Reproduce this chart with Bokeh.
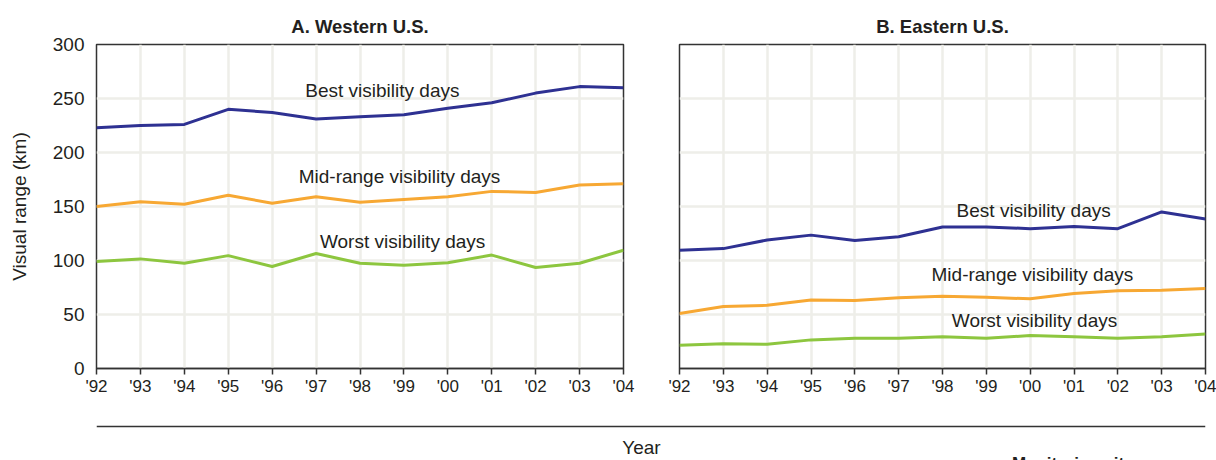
from bokeh.plotting import figure
from bokeh.layouts import column, row
from bokeh.models import Range1d, FixedTicker, Label, Span
from bokeh.embed import file_html
from bokeh.resources import INLINE

years = ["'92", "'93", "'94", "'95", "'96", "'97", "'98", "'99", "'00", "'01", "'02", "'03", "'04"]
y_ticks = [0, 50, 100, 150, 200, 250, 300]

west_best = [223, 225, 226, 240, 237, 231, 233, 235, 241, 246, 255, 261, 260]
west_mid = [150, 154.5, 152, 160.5, 153, 159, 154, 156.5, 159, 164, 163, 170, 171]
west_worst = [99, 101.5, 97.5, 104.5, 94.5, 106.5, 97.5, 95.5, 98, 105, 93.5, 97.5, 109.5]

east_best = [109.5, 111, 119, 123.5, 118.5, 122, 131, 131, 129.5, 131.5, 129.5, 145, 138.5]
east_mid = [51, 57.5, 58.5, 63.5, 63, 65.5, 67, 66, 64.5, 69.5, 72, 72.5, 74]
east_worst = [21.5, 23, 22.5, 26.5, 28, 28, 29.5, 28, 30.5, 29.5, 28, 29.5, 32]

series_names = ["Best visibility days", "Mid-range visibility days", "Worst visibility days"]
colors = ["#2e3192", "#f7a833", "#8dc63f"]

FONT = "Liberation Sans"
DARK = "#231f20"

x = list(range(len(years)))


def make_panel(title, series, label_pos, left_border, right_border, width, show_y):
    p = figure(width=width, height=408, output_backend="svg", toolbar_location=None,
               x_range=Range1d(0, len(years) - 1), y_range=Range1d(0, 300),
               min_border_left=left_border, min_border_right=right_border,
               min_border_top=44, min_border_bottom=40, title=title)
    p.title.align = "center"
    p.title.text_font = FONT
    p.title.text_font_size = "18.5px"
    p.title.text_font_style = "bold"
    p.title.text_color = DARK
    p.title.standoff = 15
    p.background_fill_color = "white"
    p.border_fill_color = "white"
    p.outline_line_color = "#333333"
    p.outline_line_width = 1.5

    p.xaxis.ticker = FixedTicker(ticks=x)
    p.xaxis.major_label_overrides = {i: t for i, t in enumerate(years)}
    p.xaxis.major_label_text_font = FONT
    p.xaxis.major_label_text_font_size = "17px"
    p.xaxis.major_label_text_color = DARK
    p.xaxis.major_label_standoff = 2
    p.xaxis.major_tick_out = 6
    p.xaxis.major_tick_in = 0
    p.xaxis.minor_tick_line_color = None
    p.xaxis.axis_line_color = "#333333"
    p.xaxis.axis_line_width = 1.5
    p.xaxis.major_tick_line_color = "#333333"
    p.xaxis.major_tick_line_width = 1.5

    p.yaxis.ticker = FixedTicker(ticks=y_ticks)
    p.yaxis.major_label_text_font = FONT
    p.yaxis.major_label_text_font_size = "19px"
    p.yaxis.major_label_text_color = DARK
    p.yaxis.major_tick_out = 0
    p.yaxis.major_tick_in = 0
    p.yaxis.minor_tick_line_color = None
    p.yaxis.axis_line_color = None
    p.yaxis.major_label_standoff = 12
    if show_y:
        p.yaxis.axis_label = "Visual range (km)"
        p.yaxis.axis_label_text_font = FONT
        p.yaxis.axis_label_text_font_size = "19px"
        p.yaxis.axis_label_text_font_style = "normal"
        p.yaxis.axis_label_text_color = DARK
        p.yaxis.axis_label_standoff = 20
    else:
        p.yaxis.visible = False

    p.xgrid.grid_line_color = "#eeeee9"
    p.ygrid.grid_line_color = "#eeeee9"
    p.xgrid.grid_line_width = 2.5
    p.ygrid.grid_line_width = 2.5

    for vals, c in zip(series, colors):
        p.line(x, vals, line_color=c, line_width=3)

    for name, (lx, ly) in zip(series_names, label_pos):
        p.add_layout(Label(x=lx, y=ly, text=name, text_align="center", text_baseline="middle",
                           text_font=FONT, text_font_size="19px", text_color=DARK))
    return p


p1 = make_panel("A. Western U.S.", [west_best, west_mid, west_worst],
                [(6.51, 257), (6.9, 178), (6.97, 118)], 96, 28, 651, True)
p2 = make_panel("B. Eastern U.S.", [east_best, east_mid, east_worst],
                [(8.08, 146), (8.05, 87), (8.1, 44)], 28, 11, 565, False)

p3 = figure(width=1216, height=52, output_backend="svg", toolbar_location=None,
            x_range=Range1d(0, 1), y_range=Range1d(0, 52), x_axis_type=None, y_axis_type=None,
            min_border_left=96, min_border_right=11, min_border_top=0, min_border_bottom=0)
p3.outline_line_color = None
p3.grid.visible = False
p3.add_layout(Span(location=34, dimension="width", line_color="#333333", line_width=1.5))
p3.add_layout(Label(x=0.4914, y=13, text="Year", text_align="center", text_baseline="middle",
                    text_font=FONT, text_font_size="19px", text_color=DARK))
p3.add_layout(Label(x=0.8846, y=7, text="Monitoring sites", text_align="center", text_baseline="top",
                    text_font=FONT, text_font_size="17px", text_font_style="bold", text_color=DARK))

layout = column(row(p1, p2), p3)
open("out.html", "w").write(file_html(layout, INLINE))
